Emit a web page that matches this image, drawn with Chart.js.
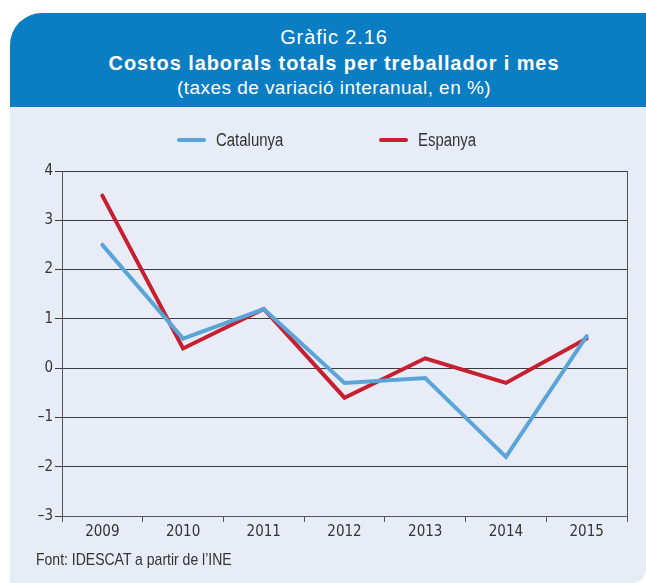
<!DOCTYPE html>
<html>
<head>
<meta charset="utf-8">
<script src="https://cdn.jsdelivr.net/npm/chart.js@4.4.0/dist/chart.umd.min.js"></script>
<style>
  html, body { margin: 0; padding: 0; background: #fff; }
  body { width: 646px; height: 583px; position: relative; overflow: hidden; }
  #head {
    position: absolute; left: 10px; top: 13px; width: 636px; height: 94px;
    background: #0a7dc3; border-top-left-radius: 32px; color: #fff;
    font-family: 'Liberation Sans', Arial, sans-serif; text-align: center;
  }
  #head div { position: absolute; left: 12px; right: 0; white-space: nowrap; }
  #l1 { top: 12px; font-size: 20px; line-height: 24px; letter-spacing: 0.9px; }
  #l2 { top: 38px; font-size: 20px; line-height: 24px; font-weight: bold; letter-spacing: 0.9px; }
  #l3 { top: 64px; font-size: 19px; line-height: 22px; letter-spacing: 0.45px; }
  #panel {
    position: absolute; left: 10px; top: 107px; width: 636px; height: 476px;
    background: #e8ecf6; border-bottom-right-radius: 14px;
  }
  #panel canvas { position: absolute; left: 0; top: 0; }
  #font {
    position: absolute; left: 26px; top: 443px; white-space: nowrap;
    font-family: 'Liberation Sans', Arial, sans-serif;
    font-size: 17px; line-height: 20px; color: #333;
    transform: scaleX(0.824); transform-origin: 0 0;
  }
</style>
</head>
<body>
<div id="head">
  <div id="l1">Gràfic 2.16</div>
  <div id="l2">Costos laborals totals per treballador i mes</div>
  <div id="l3">(taxes de variació interanual, en %)</div>
</div>
<div id="panel">
  <canvas id="chart" width="636" height="476"></canvas>
  <div id="font">Font: IDESCAT a partir de l’INE</div>
</div>
<script>
// Dades (taxes de variació interanual, %)
var years      = ['2009', '2010', '2011', '2012', '2013', '2014', '2015'];
var catalunya  = [2.5, 0.6, 1.2, -0.3, -0.2, -1.8, 0.65];
var espanya    = [3.5, 0.4, 1.2, -0.6, 0.2, -0.3, 0.6];
var seriesNames = ['Catalunya', 'Espanya'];
var yMin = -3, yMax = 4;

var FONT = "'Liberation Sans Narrow', 'DejaVu Sans Condensed', sans-serif";
var BLUE = '#5aa5d8';
var RED  = '#c61f30';

// frame line on the right edge of the plot area
var frameRight = {
    id: 'frameRight',
    beforeDatasetsDraw: function (chart) {
        var a = chart.chartArea, ctx = chart.ctx;
        ctx.save();
        ctx.strokeStyle = '#555';
        ctx.lineWidth = 1;
        ctx.beginPath();
        ctx.moveTo(Math.round(a.right) + 0.5, a.top);
        ctx.lineTo(Math.round(a.right) + 0.5, a.bottom + 6);
        ctx.stroke();
        ctx.restore();
    }
};

// legend: short thick line + (condensed) label for each dataset
var lineLegend = {
    id: 'lineLegend',
    afterDraw: function (chart, args, opts) {
        var ctx = chart.ctx;
        chart.data.datasets.forEach(function (ds, i) {
            var x = opts.xs[i];
            ctx.save();
            ctx.strokeStyle = ds.borderColor;
            ctx.lineWidth = 4;
            ctx.lineCap = 'round';
            ctx.beginPath();
            ctx.moveTo(x + 2, opts.y);
            ctx.lineTo(x + opts.lineLen - 2, opts.y);
            ctx.stroke();
            ctx.translate(x + opts.lineLen + opts.textGap, opts.y + 1);
            ctx.scale(opts.squeeze, 1);
            ctx.font = opts.fontSize + "px 'Liberation Sans', Arial, sans-serif";
            ctx.textBaseline = 'middle';
            ctx.fillStyle = '#333';
            ctx.fillText(ds.label, 0, 0);
            ctx.restore();
        });
    }
};

new Chart(document.getElementById('chart'), {
    type: 'line',
    data: {
        labels: years,
        datasets: [{
            label: seriesNames[0],
            data: catalunya,
            borderColor: BLUE,
            backgroundColor: BLUE,
            borderWidth: 4,
            pointRadius: 0,
            borderCapStyle: 'round',
            tension: 0,
        }, {
            label: seriesNames[1],
            data: espanya,
            borderColor: RED,
            backgroundColor: RED,
            borderWidth: 4,
            pointRadius: 0,
            borderCapStyle: 'round',
            tension: 0,
        }]
    },
    options: {
        responsive: false,
        animation: false,
        layout: { padding: { top: 64, right: 19, left: 0, bottom: 0 } },
        plugins: {
            legend: { display: false },
            tooltip: { enabled: false },
            lineLegend: { xs: [167, 369], y: 33, lineLen: 29, textGap: 10, fontSize: 18, squeeze: 0.83 },
        },
        scales: {
            x: {
                offset: true,
                grid: { offset: true, drawOnChartArea: false, drawTicks: true, tickLength: 6, color: '#555' },
                border: { display: true, color: '#555' },
                ticks: { color: '#333', font: { family: FONT, size: 15 }, padding: 1, maxRotation: 0 },
                afterFit: function (scale) { scale.height = 67; },
            },
            y: {
                min: yMin,
                max: yMax,
                ticks: {
                    stepSize: 1,
                    color: '#333',
                    font: { family: FONT, size: 15 },
                    padding: 2,
                    callback: function (v) { return String(v).replace('-', '\u2013'); },
                },
                grid: { color: '#3c3c3c', lineWidth: 1, drawTicks: true, tickLength: 7 },
                border: { display: true, color: '#555' },
                afterFit: function (scale) { scale.width = 52; },
            }
        }
    },
    plugins: [frameRight, lineLegend]
});
</script>
</body>
</html>
